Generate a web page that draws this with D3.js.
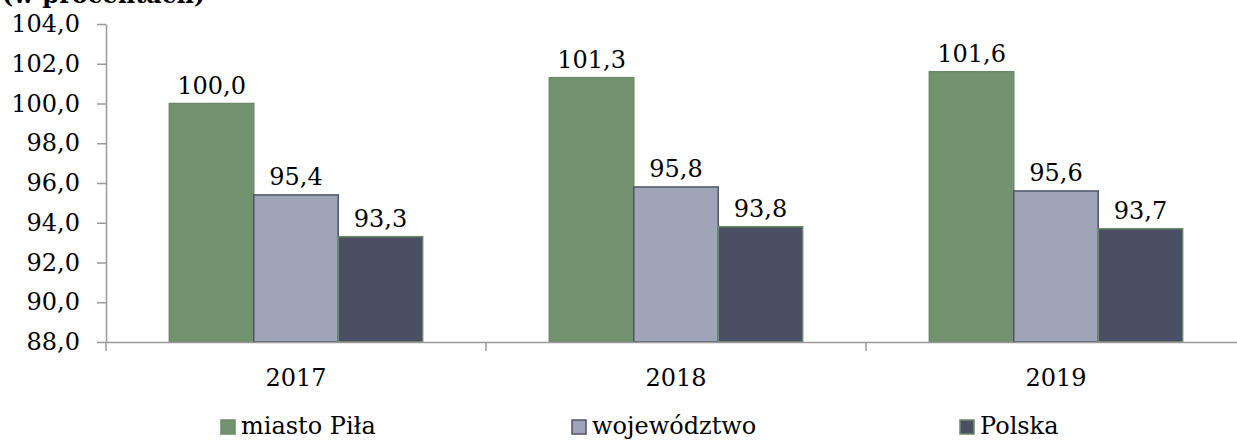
<!DOCTYPE html>
<html>
<head>
<meta charset="utf-8">
<script src="https://cdn.jsdelivr.net/npm/d3@7"></script>
<style>
  body { margin: 0; background: #fff; }
  text { font-family: "DejaVu Serif", serif; fill: #000; }
</style>
</head>
<body>
<svg id="chart"></svg>
<script>
// dane
const years = ['2017', '2018', '2019'];
const series = ['miasto Piła', 'województwo', 'Polska'];
const pila = [100.0, 101.3, 101.6];
const wojewodztwo = [95.4, 95.8, 95.6];
const polska = [93.3, 93.8, 93.7];
const yTicks = [88, 90, 92, 94, 96, 98, 100, 102, 104];

const values = [pila, wojewodztwo, polska];
const fills = ['#739370', '#a0a4b8', '#4a4f63'];
const strokes = ['#6c8a69', '#4e5368', '#6a8a66'];

const width = 1237, height = 441;
const margin = {top: 24, left: 106, bottom: 99};

const svg = d3.select('#chart')
    .attr('width', width)
    .attr('height', height);

// tytuł ucięty u góry
svg.append('text')
    .attr('x', 2)
    .attr('y', 3)
    .style('font-size', '24px')
    .style('font-weight', 'bold')
    .text('(w procentach)');

const plotH = height - margin.top - margin.bottom;
const bandW = 380;

const x = d3.scaleBand()
    .domain(years)
    .range([margin.left, margin.left + bandW * years.length])
    .paddingInner(0)
    .paddingOuter(0);

const inner = d3.scaleBand()
    .domain(series)
    .range([0, bandW])
    .paddingInner(0)
    .paddingOuter(0.75);

const y = d3.scaleLinear()
    .domain([88, 104])
    .range([margin.top + plotH, margin.top]);

const fmt = v => d3.format('.1f')(v).replace('.', ',');

// oś Y
const yAxis = svg.append('g')
    .attr('transform', `translate(${margin.left},0)`)
    .call(d3.axisLeft(y).tickValues(yTicks).tickSize(9).tickSizeOuter(0).tickPadding(17).tickFormat(fmt));
yAxis.select('.domain').attr('stroke', '#9a9a9a').attr('stroke-width', 1.5);
yAxis.selectAll('.tick line').attr('stroke', '#9a9a9a').attr('stroke-width', 1.5);
yAxis.selectAll('.tick text').style('font-size', '24px').attr('fill', '#000');

// słupki
const groups = svg.append('g')
    .selectAll('g')
    .data(years)
    .join('g')
    .attr('transform', d => `translate(${x(d)},0)`);

series.forEach((s, si) => {
    groups.append('rect')
        .attr('x', inner(s))
        .attr('width', inner.bandwidth())
        .attr('y', (d, i) => y(values[si][i]))
        .attr('height', (d, i) => y(88) - y(values[si][i]))
        .attr('fill', fills[si])
        .attr('stroke', strokes[si])
        .attr('stroke-width', 1.5);

    groups.append('text')
        .attr('x', inner(s) + inner.bandwidth() / 2)
        .attr('y', (d, i) => y(values[si][i]) - 10)
        .attr('text-anchor', 'middle')
        .style('font-size', '24px')
        .text((d, i) => fmt(values[si][i]));
});

// oś X
const xAxis = svg.append('g')
    .attr('transform', `translate(0,${y(88)})`)
    .call(d3.axisBottom(x).tickSize(0).tickPadding(22));
xAxis.select('.domain').attr('stroke', '#9a9a9a').attr('stroke-width', 1.5);
xAxis.selectAll('.tick text').style('font-size', '24px').attr('fill', '#000').attr('dy', '0.9em');

// znaczniki między kategoriami
svg.append('g')
    .selectAll('line')
    .data(years)
    .join('line')
    .attr('x1', d => x(d))
    .attr('x2', d => x(d))
    .attr('y1', y(88))
    .attr('y2', y(88) + 9)
    .attr('stroke', '#9a9a9a')
    .attr('stroke-width', 1.5);

// legenda
const legendX = [221, 572, 960];
const legend = svg.append('g')
    .selectAll('g')
    .data(series)
    .join('g')
    .attr('transform', (d, i) => `translate(${legendX[i]},420)`);
legend.append('rect')
    .attr('width', 14)
    .attr('height', 14)
    .attr('fill', (d, i) => fills[i])
    .attr('stroke', (d, i) => strokes[i])
    .attr('stroke-width', 1.5);
legend.append('text')
    .attr('x', 20)
    .attr('y', 14)
    .style('font-size', '24px')
    .text(d => d);
</script>
</body>
</html>
